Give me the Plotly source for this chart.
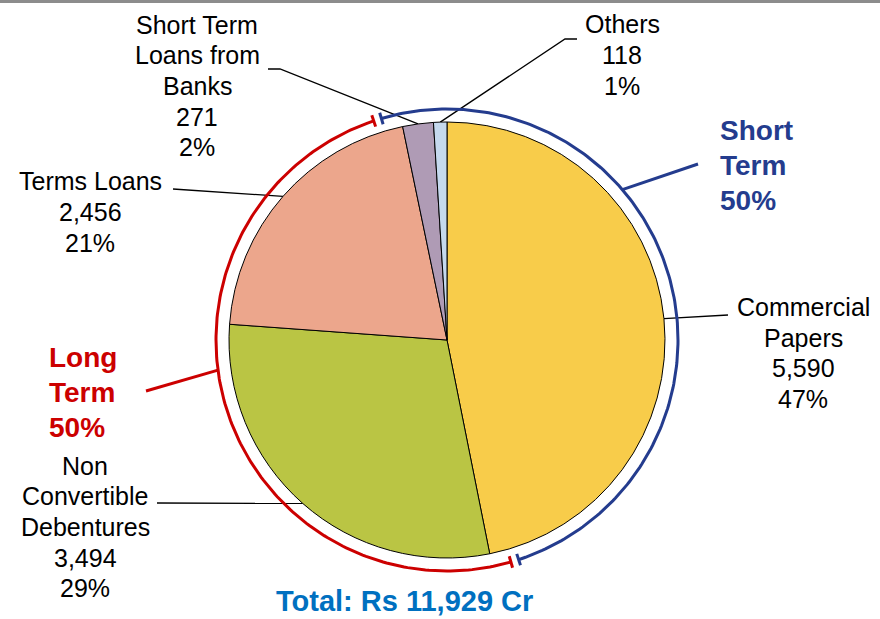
import numpy as np
import plotly.graph_objects as go

# ---------------- data ----------------
categories = ["Commercial Papers", "Non Convertible Debentures", "Terms Loans",
              "Short Term Loans from Banks", "Others"]
label_lines = [["Commercial", "Papers"], ["Non", "Convertible", "Debentures"], ["Terms Loans"],
               ["Short Term", "Loans from", "Banks"], ["Others"]]
values = [5590, 3494, 2456, 271, 118]
term = ["Short", "Long", "Long", "Short", "Short"]
colors = ["#F8CC4A", "#BAC544", "#ECA68C", "#AF9BB5", "#C5D9EE"]

total = sum(values)
shares = [v / total for v in values]

# ---------------- layout constants (pixels) ----------------
W, H = 880, 619
CX, CY, R = 447, 340, 218
R_ARC = 231
ARC_START = -17.5  # degrees, clockwise from 12 o'clock

FONT = "Arial, Liberation Sans, sans-serif"
BLUE = "#243C8E"
RED = "#CC0000"
LINE_H = 30.7
BOLD_LINE_H = 35

fig = go.Figure()

# pie
fig.add_trace(go.Pie(
    labels=categories, values=values, sort=False, direction="clockwise", rotation=0,
    marker=dict(colors=colors, line=dict(color="#000000", width=1)),
    textinfo="none", hoverinfo="label+value+percent", showlegend=False,
    domain=dict(x=[(CX - R) / W, (CX + R) / W],
                y=[(H - CY - R) / H, (H - CY + R) / H]),
))

def pt(theta_deg, r):
    t = np.radians(theta_deg)
    return CX + r * np.sin(t), CY - r * np.cos(t)

def text_block(lines, cx, cy, spacing, size, color, anchor="center", bold=False):
    n = len(lines)
    for j, s in enumerate(lines):
        fig.add_annotation(x=cx, y=cy + (j - (n - 1) / 2) * spacing, xref="x", yref="y",
                           text=f"<b>{s}</b>" if bold else s, showarrow=False,
                           xanchor=anchor, yanchor="middle",
                           font=dict(family=FONT, size=size, color=color))

# slice mid-angles from data
cum = np.cumsum([0] + shares)
mids = [(cum[i] + cum[i + 1]) / 2 * 360 for i in range(len(values))]

# label block centres and leader-line label ends (pixels)
label_pos = [(803, 353), (85, 527), (90, 212), (197, 86), (622, 55)]
leader_ends = [[(728, 315)], [(157, 503)], [(173, 189), (187, 190)],
               [(268, 69), (280, 69)], [(577, 39), (565, 39)]]

for i, cat in enumerate(categories):
    ex, ey = pt(mids[i], R)
    xs = [p[0] for p in leader_ends[i]] + [ex]
    ys = [p[1] for p in leader_ends[i]] + [ey]
    fig.add_trace(go.Scatter(x=xs, y=ys, mode="lines", line=dict(color="black", width=1.3),
                             hoverinfo="skip", showlegend=False))
    lines = label_lines[i] + [f"{values[i]:,}", f"{round(shares[i]*100)}%"]
    text_block(lines, label_pos[i][0], label_pos[i][1], LINE_H, 25, "black")

# short / long term arcs
short_share = sum(s for s, t in zip(shares, term) if t == "Short")
long_share = 1 - short_share
groups = [("Short", short_share, BLUE, ARC_START),
          ("Long", long_share, RED, ARC_START + short_share * 360)]
GAP = 1.0
for name, share, col, a0 in groups:
    a1 = a0 + share * 360
    th = np.linspace(a0 + GAP, a1 - GAP, 200)
    xs, ys = pt(th, R_ARC)
    fig.add_trace(go.Scatter(x=xs, y=ys, mode="lines", line=dict(color=col, width=3),
                             hoverinfo="skip", showlegend=False))
    for a in (a0 + GAP, a1 - GAP):
        p1 = pt(a, R_ARC - 6)
        p2 = pt(a, R_ARC + 6)
        fig.add_trace(go.Scatter(x=[p1[0], p2[0]], y=[p1[1], p2[1]], mode="lines",
                                 line=dict(color=col, width=3), hoverinfo="skip",
                                 showlegend=False))

# group callouts
callouts = {"Short": dict(angle=49.4, end=(698, 164), text_xy=(718, 165), col=BLUE,
                          share=short_share, label=["Short", "Term"]),
            "Long": dict(angle=262.5, end=(146, 391), text_xy=(47, 392), col=RED,
                         share=long_share, label=["Long", "Term"])}
for k, c in callouts.items():
    sx, sy = pt(c["angle"], R_ARC)
    fig.add_trace(go.Scatter(x=[sx, c["end"][0]], y=[sy, c["end"][1]], mode="lines",
                             line=dict(color=c["col"], width=3), hoverinfo="skip",
                             showlegend=False))
    text_block(c["label"] + [f"{round(c['share']*100)}%"], c["text_xy"][0], c["text_xy"][1],
               BOLD_LINE_H, 28, c["col"], anchor="left", bold=True)

# total
fig.add_annotation(x=404, y=601, xref="x", yref="y",
                   text=f"<b>Total: Rs {total:,} Cr</b>", showarrow=False,
                   xanchor="center", yanchor="middle", borderpad=0,
                   font=dict(family=FONT, size=29, color="#0070C0"))

# top border line
fig.add_shape(type="line", xref="x", yref="y", x0=0, x1=W, y0=1.5, y1=1.5,
              line=dict(color="#8C8C8C", width=3))

fig.update_layout(
    width=W, height=H, margin=dict(l=0, r=0, t=0, b=0),
    paper_bgcolor="white", plot_bgcolor="rgba(0,0,0,0)",
    xaxis=dict(range=[0, W], visible=False, fixedrange=True),
    yaxis=dict(range=[H, 0], visible=False, fixedrange=True),
    showlegend=False,
)

fig.write_html("out.html", config={"displayModeBar": False},
               post_script="document.body.style.margin='0';document.body.style.overflow='hidden';")
